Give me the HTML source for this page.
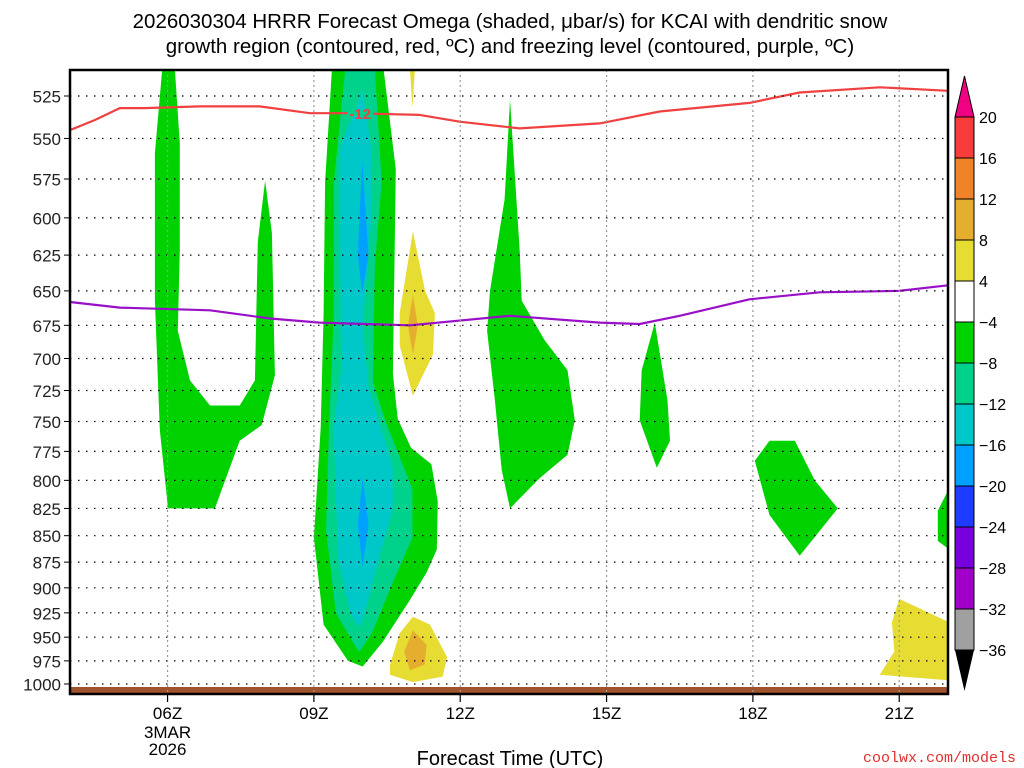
<!DOCTYPE html>
<html><head><meta charset="utf-8"><style>
html,body{margin:0;padding:0;background:#fff;}
svg{display:block;font-family:"Liberation Sans","DejaVu Sans",sans-serif;}
</style></head><body>
<svg id="chart" width="1024" height="768" viewBox="0 0 1024 768" xmlns="http://www.w3.org/2000/svg">
<text x="510" y="28" font-size="20.5" text-anchor="middle">2026030304 HRRR Forecast Omega (shaded, μbar/s) for KCAI with dendritic snow</text>
<text x="510" y="53" font-size="20.5" text-anchor="middle">growth region (contoured, red, ºC) and freezing level (contoured, purple, ºC)</text>
<g id="plot"></g>
<g id="cbar"></g>
<text x="510" y="765" font-size="20" text-anchor="middle">Forecast Time (UTC)</text>
<text x="1016" y="762" font-size="15" fill="#e03030" text-anchor="end" font-family="Liberation Mono, monospace">coolwx.com/models</text>
</svg>
<script>
// ---- data ----
const xTickHours = [6, 9, 12, 15, 18, 21];
const xTickLabels = ["06Z", "09Z", "12Z", "15Z", "18Z", "21Z"];
const yTicks = [525,550,575,600,625,650,675,700,725,750,775,800,825,850,875,900,925,950,975,1000];
const cbarLevels = [20,16,12,8,4,-4,-8,-12,-16,-20,-24,-28,-32,-36];
const cbarColors = ["#f83c3c","#f08228","#e6ae2e","#e6dc32","#ffffff","#00d200","#00d28c","#00c8c8","#00a0ff","#1e3cff","#7800dc","#a000c8","#a0a0a0"];
// omega regions: [hour, hPa]
const green1 = [[5.89,510],[6.15,510],[6.25,553],[6.25,622],[6.21,679],[6.46,717],[6.87,737],[7.48,737],[7.79,717],[7.85,616],[8.0,576],[8.14,610],[8.2,713],[7.93,753],[7.48,766],[6.97,825],[6.01,825],[5.84,757],[5.74,657],[5.74,559]];
const greenMain = [[9.37,510],[10.43,510],[10.68,569],[10.62,712],[10.72,748],[10.99,772],[11.41,786],[11.54,819],[11.52,863],[11.31,885],[10.97,912],[10.41,955],[10.0,981],[9.7,975],[9.2,937],[9.0,852],[9.14,755],[9.2,666],[9.23,577]];
const teal = [[9.64,510],[10.25,510],[10.39,577],[10.25,632],[10.21,718],[10.45,748],[11.02,808],[11.02,852],[10.66,890],[10.19,946],[9.95,964],[9.9,964],[9.45,925],[9.25,845],[9.31,755],[9.41,666],[9.41,577]];
const cyan = [[10.0,522],[10.17,555],[10.17,604],[10.0,675],[10.12,722],[10.62,789],[10.62,826],[10.33,872],[10.0,933],[9.92,940],[9.74,925],[9.5,872],[9.4,755],[9.56,709],[9.54,632],[9.54,555]];
const blueUpper = [[9.99,563],[10.12,625],[9.99,652],[9.9,625]];
const blueLower = [[10.0,797],[10.12,840],[10.0,880],[9.9,840]];
const green2 = [[13.02,527],[13.22,622],[13.26,657],[13.73,686],[14.2,709],[14.35,749],[14.2,778],[13.63,798],[13.02,825],[12.85,791],[12.71,733],[12.55,679],[12.61,650],[12.91,588]];
const green3 = [[15.99,673],[16.25,733],[16.3,766],[16.03,789],[15.68,749],[15.72,709]];
const green4 = [[18.04,783],[18.34,766],[18.86,766],[19.27,800],[19.74,825],[18.96,869],[18.34,831]];
const green5 = [[22.0,809],[21.79,827],[21.79,855],[22.0,862]];
const yellowUpper = [[11.03,609],[11.28,650],[11.48,666],[11.44,697],[11.03,729],[10.76,690],[10.76,666]];
const orangeUpper = [[11.03,653],[11.13,675],[11.03,697],[10.93,675]];
const yellowTop = [[10.97,510],[11.07,510],[11.02,532]];
const yellowLower = [[10.56,979],[10.76,946],[11.03,929],[11.38,937],[11.73,971],[11.64,992],[11.03,998],[10.56,990]];
const orangeLower = [[11.03,943],[11.31,958],[11.27,979],[10.97,985],[10.85,965]];
const yellowRight = [[21.0,911],[22.0,934],[22.0,996],[20.6,990],[20.9,965],[20.85,935]];
// isotherms
const redHours = [4,4.51,5.02,5.53,6.66,7.89,8.92,9.74,11.17,11.99,13.22,14.86,16.09,17.93,18.96,20.6,22];
const redP = [545,539,532,532,531,531,535,535,536,540,544,541,534,529,523,520,522];
const purpleHours = [4,5.02,6.87,8.1,9.12,10.97,13.02,14.86,15.68,16.5,17.93,19.37,21.0,22];
const purpleP = [658,662,664,670,673,675,668,673,674,668,656,651,650,646];

// ---- scales ----
const X0=70, X1=948, Y0=70, Y1=694;
const H0=4, H1=22;
const lnTop=Math.log(525), pxPerLn=912.5, yTop=96;
function xs(h){return X0+(h-H0)*(X1-X0)/(H1-H0);}
function ys(p){return yTop+(Math.log(p)-lnTop)*pxPerLn;}
const NS="http://www.w3.org/2000/svg";
function mk(tag,attrs,parent){const e=document.createElementNS(NS,tag);for(const k in attrs)e.setAttribute(k,attrs[k]);parent.appendChild(e);return e;}
const plot=document.getElementById('plot');
const cb=document.getElementById('cbar');

const defs=mk('defs',{},plot);
const cp=mk('clipPath',{id:'clip'},defs);
mk('rect',{x:X0,y:Y0,width:X1-X0,height:Y1-Y0},cp);
const inner=mk('g',{'clip-path':'url(#clip)'},plot);

function poly(pts,fill,name){
  const e=mk('polygon',{points:pts.map(p=>xs(p[0]).toFixed(1)+','+ys(p[1]).toFixed(1)).join(' '),fill:fill},inner);
  
  
}
poly(green1,"#00d200","omega-region-06z");
poly(greenMain,"#00d200","omega-region-main");
poly(teal,"#00d28c","omega-region-main-8");
poly(cyan,"#00c8c8","omega-region-main-12");
poly(blueUpper,"#00a0ff","omega-region-main-16-upper");
poly(blueLower,"#00a0ff","omega-region-main-16-lower");
poly(green2,"#00d200","omega-region-13z");
poly(green3,"#00d200","omega-region-16z");
poly(green4,"#00d200","omega-region-19z");
poly(green5,"#00d200","omega-region-22z");
poly(yellowUpper,"#e6dc32","omega-rise-upper");
poly(orangeUpper,"#e6ae2e","omega-rise-upper-8");
poly(yellowTop,"#e6dc32","omega-rise-top");
poly(yellowLower,"#e6dc32","omega-rise-lower");
poly(orangeLower,"#e6ae2e","omega-rise-lower-8");
poly(yellowRight,"#e6dc32","omega-rise-right");

const g=mk('rect',{x:X0,y:687,width:X1-X0,height:8,fill:"#a0522d"},inner);



yTicks.forEach(p=>{
  const l=mk('line',{x1:X0,x2:X1,y1:ys(p),y2:ys(p),stroke:"#000","stroke-width":1.2,"stroke-dasharray":"1.5 6.5"},plot);
  
  
  const t=mk('line',{x1:X0-6,x2:X0,y1:ys(p),y2:ys(p),stroke:"#000","stroke-width":1},plot);
  
  
  const tx=mk('text',{x:X0-9,y:ys(p)+6.5,'font-size':17,'text-anchor':'end',fill:'#222'},plot);
  tx.textContent=p;
  
  
});
xTickHours.forEach((h,i)=>{
  const l=mk('line',{x1:xs(h),x2:xs(h),y1:Y0,y2:Y1,stroke:"#999","stroke-width":1.2,"stroke-dasharray":"2 3"},plot);
  
  
  const t=mk('line',{x1:xs(h),x2:xs(h),y1:Y1,y2:Y1+8,stroke:"#000","stroke-width":1.2},plot);
  
  
  const tx=mk('text',{x:xs(h),y:719,'font-size':17,'text-anchor':'middle'},plot);
  tx.textContent=xTickLabels[i];
  
  
});
[["3MAR",738],["2026",755]].forEach(d=>{
  const tx=mk('text',{x:xs(6),y:d[1],'font-size':17,'text-anchor':'middle'},plot);
  tx.textContent=d[0];
  
  
});

function line(hs,ps,color,name){
  const e=mk('polyline',{points:hs.map((h,i)=>xs(h).toFixed(1)+','+ys(ps[i]).toFixed(1)).join(' '),fill:'none',stroke:color,'stroke-width':2.2,'stroke-linejoin':'round'},inner);
  
  
}
line(redHours,redP,"#f04040","dgz-isotherm-minus12");
line(purpleHours,purpleP,"#9a10c8","freezing-level-line");
const lb=mk('rect',{x:xs(9.95)-13,y:ys(535)-3,width:26,height:6,fill:'#00d28c'},inner);


const lt=mk('text',{x:xs(9.95),y:ys(535)+6,'font-size':15,'font-weight':'bold','text-anchor':'middle',fill:'#f04040'},inner);
lt.textContent='-12';



const fr=mk('rect',{x:X0,y:Y0,width:X1-X0,height:Y1-Y0,fill:'none',stroke:'#000','stroke-width':2.5},plot);



const CX=955, CW=19, CT=117, STEP=(650-117)/13;
const up=mk('polygon',{points:`${CX},${CT} ${CX+CW},${CT} ${CX+CW/2},76`,fill:'#f00082',stroke:'#000','stroke-width':1},cb);


cbarColors.forEach((c,i)=>{
  const r=mk('rect',{x:CX,y:CT+i*STEP,width:CW,height:STEP,fill:c,stroke:'#000','stroke-width':1},cb);
  
  
});
const dn=mk('polygon',{points:`${CX},650 ${CX+CW},650 ${CX+CW/2},691`,fill:'#000'},cb);


cbarLevels.forEach((v,i)=>{
  const t=mk('text',{x:CX+CW+5,y:CT+i*STEP+6,'font-size':16},cb);
  t.textContent=v<0?'\u2212'+Math.abs(v):String(v);
  
  
});
</script>
</body></html>
